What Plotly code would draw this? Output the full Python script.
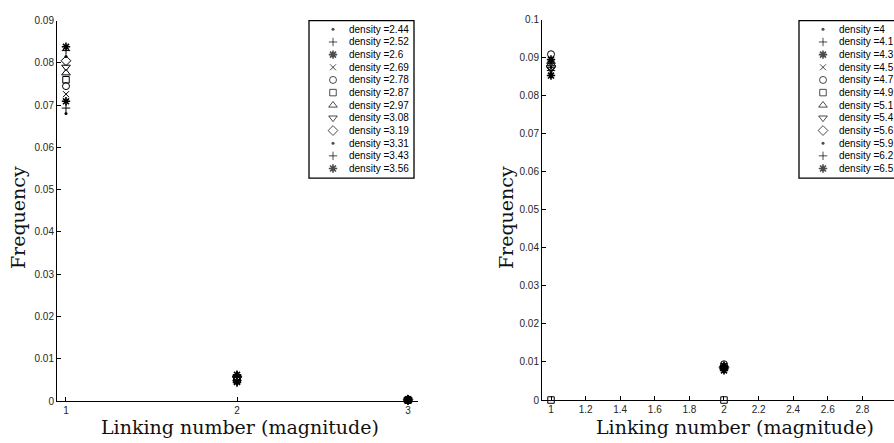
import plotly.graph_objects as go

# ---------------- data ----------------
linking = [1, 2, 3]

dens_left = ["2.44", "2.52", "2.6", "2.69", "2.78", "2.87", "2.97", "3.08", "3.19", "3.31", "3.43", "3.56"]
left_f1 = [0.0680, 0.0693, 0.0709, 0.0726, 0.0745, 0.0760, 0.0776, 0.0790, 0.0805, 0.0815, 0.0829, 0.0838]
left_f2 = [0.0041, 0.0043, 0.0045, 0.0047, 0.0049, 0.0051, 0.0053, 0.0055, 0.0057, 0.0059, 0.0061, 0.0062]
left_f3 = [0.0001, 0.0001, 0.0001, 0.0002, 0.0002, 0.0002, 0.0002, 0.0003, 0.0003, 0.0003, 0.0004, 0.0004]

dens_right = ["4", "4.1", "4.3", "4.5", "4.7", "4.9", "5.1", "5.4", "5.6", "5.9", "6.2", "6.5"]
right_f1 = [0.0875, 0.0880, 0.0895, 0.0885, 0.0909, 0.0, 0.0890, 0.0870, 0.0878, 0.0860, 0.0866, 0.0853]
right_f2 = [0.0080, 0.0082, 0.0090, 0.0085, 0.0094, 0.0, 0.0088, 0.0083, 0.0086, 0.0079, 0.0081, 0.0078]
right_f3 = [0.0002, 0.0002, 0.0003, 0.0002, 0.0003, 0.0, 0.0002, 0.0002, 0.0002, 0.0002, 0.0003, 0.0002]

left_yticks = [0, 0.01, 0.02, 0.03, 0.04, 0.05, 0.06, 0.07, 0.08, 0.09]
left_ylabels = ["0", "0.01", "0.02", "0.03", "0.04", "0.05", "0.06", "0.07", "0.08", "0.09"]
right_yticks = [0, 0.01, 0.02, 0.03, 0.04, 0.05, 0.06, 0.07, 0.08, 0.09, 0.1]
right_ylabels = ["0", "0.01", "0.02", "0.03", "0.04", "0.05", "0.06", "0.07", "0.08", "0.09", "0.1"]
left_xticks = [1, 2, 3]
right_xticks = [1, 1.2, 1.4, 1.6, 1.8, 2, 2.2, 2.4, 2.6, 2.8, 3]
right_xlabels = ["1", "1.2", "1.4", "1.6", "1.8", "2", "2.2", "2.4", "2.6", "2.8", "3"]

symbols = ["circle", "cross-thin-open", "asterisk-open", "x-thin-open", "circle-open",
           "square-open", "triangle-up-open", "triangle-down-open", "diamond-open",
           "circle", "cross-thin-open", "asterisk-open"]
sizes = [3, 6, 7, 6, 7, 6.5, 7.5, 7.5, 7.5, 3, 6, 7]
lwidths = [0, 1, 1.6, 1, 1, 1, 1, 1, 1, 0, 1, 1.6]

W, H = 894, 443
TICKFONT = dict(family="Liberation Sans, Arial, sans-serif", size=10, color="#262626")
LEGFONT = dict(family="Liberation Sans, Arial, sans-serif", size=10, color="black")
SERIF = dict(family="DejaVu Serif, serif", size=19, color="#111")

fig = go.Figure()


def px(x):
    return x / W


def py(y):
    return 1 - y / H


def add_panel(dens, f1, f2, f3, xa, ya):
    for i in range(len(dens)):
        fig.add_trace(go.Scatter(
            x=linking, y=[f1[i], f2[i], f3[i]], mode="markers",
            xaxis=xa, yaxis=ya, showlegend=False, cliponaxis=False,
            marker=dict(symbol=symbols[i], size=sizes[i], color="black",
                        line=dict(color="black", width=lwidths[i])),
            name="density =" + dens[i]))


def add_legend(dens, xa, ya, x0, x1, mx, tx):
    n = len(dens)
    fig.add_trace(go.Scatter(
        x=[mx] * n, y=list(range(1, n + 1)), mode="markers",
        xaxis=xa, yaxis=ya, showlegend=False, cliponaxis=False, hoverinfo="skip",
        marker=dict(symbol=symbols, size=sizes, color="black",
                    line=dict(color="black", width=lwidths))))
    for i, d in enumerate(dens):
        fig.add_annotation(x=tx, y=i + 1, xref=xa, yref=ya, text="density =" + d,
                           showarrow=False, xanchor="left", yanchor="middle",
                           font=LEGFONT, xshift=-2)
    fig.add_shape(type="rect", xref="paper", yref="paper",
                  x0=px(x0), x1=px(x1), y0=py(177), y1=py(15),
                  line=dict(color="black", width=1.3), fillcolor="white", layer="below")


add_panel(dens_left, left_f1, left_f2, left_f3, "x", "y")
add_panel(dens_right, right_f1, right_f2, right_f3, "x2", "y2")

add_legend(dens_left, "x3", "y3", 309, 414, 333, 349)
add_legend(dens_right, "x4", "y4", 799, 905, 823, 839)

axcommon = dict(showline=True, linecolor="black", linewidth=1, ticks="inside", ticklen=4,
                tickcolor="black", showgrid=False, zeroline=False, tickfont=TICKFONT)

fig.update_layout(
    width=W, height=H, margin=dict(l=0, r=0, t=0, b=0),
    paper_bgcolor="white", plot_bgcolor="rgba(0,0,0,0)",
    xaxis=dict(domain=[px(57), px(418)], range=[0.9474, 3.0585], tickvals=left_xticks,
               anchor="y", **axcommon),
    yaxis=dict(domain=[py(406), py(15)], range=[0, 0.09], tickvals=left_yticks,
               ticktext=left_ylabels, anchor="x", **axcommon),
    xaxis2=dict(domain=[px(542), 1.0], range=[0.948, 2.9827], tickvals=right_xticks,
                ticktext=right_xlabels, anchor="y2", **axcommon),
    yaxis2=dict(domain=[py(405), py(14)], range=[0, 0.1], tickvals=right_yticks,
                ticktext=right_ylabels, anchor="x2", **axcommon),
    xaxis3=dict(domain=[px(309), px(414)], range=[309, 414], visible=False, fixedrange=True),
    yaxis3=dict(domain=[py(167), py(24)], range=[12, 1], visible=False, fixedrange=True, anchor="x3"),
    xaxis4=dict(domain=[px(799), 1.0], range=[799, 894], visible=False, fixedrange=True),
    yaxis4=dict(domain=[py(167), py(24)], range=[12, 1], visible=False, fixedrange=True, anchor="x4"),
)

# axis titles
fig.add_annotation(x=px(240), y=py(433), xref="paper", yref="paper", text="Linking number (magnitude)",
                   showarrow=False, font=SERIF, xanchor="center", yanchor="middle")
fig.add_annotation(x=px(735), y=py(433), xref="paper", yref="paper", text="Linking number (magnitude)",
                   showarrow=False, font=SERIF, xanchor="center", yanchor="middle")
fig.add_annotation(x=px(18), y=py(218), xref="paper", yref="paper", text="Frequency", textangle=-90,
                   showarrow=False, font=SERIF, xanchor="center", yanchor="middle")
fig.add_annotation(x=px(506), y=py(218), xref="paper", yref="paper", text="Frequency", textangle=-90,
                   showarrow=False, font=SERIF, xanchor="center", yanchor="middle")

fig.write_html("out.html", config={"displayModeBar": False},
               post_script="document.body.style.margin='0';document.body.style.overflow='hidden';")
